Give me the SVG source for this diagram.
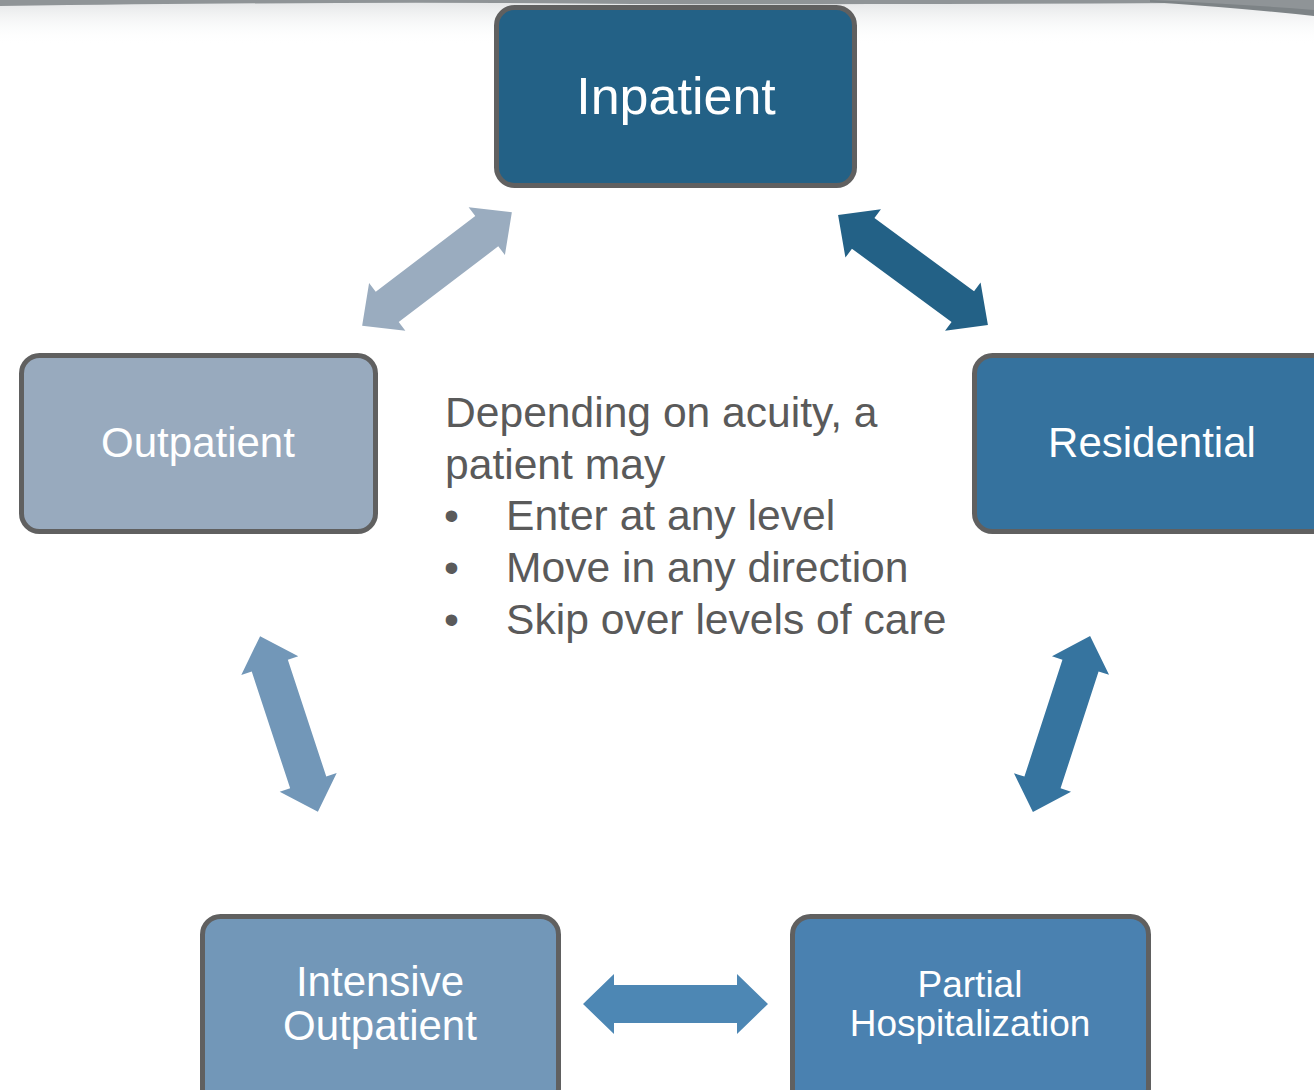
<svg xmlns="http://www.w3.org/2000/svg" width="1314" height="1090" viewBox="0 0 1314 1090">
  <defs>
    <style>
      .box { stroke: #606060; stroke-width: 5; }
      .lbl { font-family: "Liberation Sans", Arial, sans-serif; fill: #ffffff; text-anchor: middle; }
      .body { font-family: "Liberation Sans", Arial, sans-serif; fill: #5a5a5a; font-size: 42.6px; }
    </style>
    <linearGradient id="fade" x1="0" y1="0" x2="0" y2="1">
      <stop offset="0" stop-color="#d4d7d9" stop-opacity="0.7"/>
      <stop offset="1" stop-color="#ffffff" stop-opacity="0"/>
    </linearGradient>
    <path id="dbl" d="M -92.5 0 L -61.5 -30 L -61.5 -19 L 61.5 -19 L 61.5 -30 L 92.5 0 L 61.5 30 L 61.5 19 L -61.5 19 L -61.5 30 Z"/>
  </defs>
  <rect x="0" y="0" width="1314" height="1090" fill="#ffffff"/>
  <g id="texture">
    <rect x="0" y="0" width="1314" height="45" fill="url(#fade)"/>
    <path d="M 0 0 L 1314 0 L 1314 12 Q 1250 8 1180 3 Q 1000 4 870 4 Q 700 5 500 3 Q 300 2 0 6 Z" fill="#8f9497"/>
    <path d="M 1150 2 Q 1240 8 1314 16 L 1314 10 Q 1240 4 1150 0 Z" fill="#7d8386"/>
  </g>
  <g id="connectors">
    <use href="#dbl" transform="translate(437,269) rotate(-37.2) scale(1.016,1)" fill="#9aacbf"/>
    <use href="#dbl" transform="translate(913,270) rotate(36.3) scale(1.005,1)" fill="#236186"/>
    <use href="#dbl" transform="translate(289,724) rotate(71.8)" fill="#7297b8"/>
    <use href="#dbl" transform="translate(1061.5,724) rotate(108)" fill="#36749f"/>
    <use href="#dbl" transform="translate(675.5,1004)" fill="#4d87b4"/>
  </g>
  <g id="inpatient">
    <rect class="box" x="496.5" y="7.5" width="358" height="178" rx="18" fill="#236186"/>
    <text class="lbl" x="676" y="114" font-size="52">Inpatient</text>
  </g>
  <g id="outpatient">
    <rect class="box" x="21.5" y="355.5" width="354" height="176" rx="18" fill="#98aabe"/>
    <text class="lbl" x="198" y="457" font-size="42">Outpatient</text>
  </g>
  <g id="residential">
    <rect class="box" x="974.5" y="355.5" width="360" height="176" rx="18" fill="#35729e"/>
    <text class="lbl" x="1152" y="457" font-size="42">Residential</text>
  </g>
  <g id="intensive-outpatient">
    <rect class="box" x="202.5" y="916.5" width="356" height="190" rx="18" fill="#7297b8"/>
    <text class="lbl" x="380" y="996" font-size="42">Intensive</text>
    <text class="lbl" x="380" y="1040" font-size="42">Outpatient</text>
  </g>
  <g id="partial-hospitalization">
    <rect class="box" x="792.5" y="916.5" width="356" height="190" rx="18" fill="#4a81b0"/>
    <text class="lbl" x="970" y="997" font-size="37">Partial</text>
    <text class="lbl" x="970" y="1036" font-size="37">Hospitalization</text>
  </g>
  <g id="description">
    <text class="body" x="445" y="427">Depending on acuity, a</text>
    <text class="body" x="445" y="479">patient may</text>
    <text class="body" x="444" y="530">•</text>
    <text class="body" x="506" y="530">Enter at any level</text>
    <text class="body" x="444" y="582">•</text>
    <text class="body" x="506" y="582">Move in any direction</text>
    <text class="body" x="444" y="634">•</text>
    <text class="body" x="506" y="634">Skip over levels of care</text>
  </g>
</svg>
